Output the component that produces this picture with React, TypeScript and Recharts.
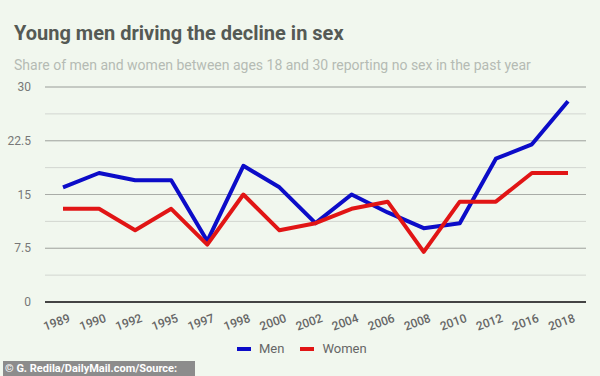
import { LineChart, Line, XAxis, YAxis, CartesianGrid, ReferenceLine } from 'recharts';

const years = ['1989', '1990', '1992', '1995', '1997', '1998', '2000', '2002', '2004', '2006', '2008', '2010', '2012', '2016', '2018'];
const menShare = [16, 18, 17, 17, 8.5, 19, 16, 11, 15, 12.5, 10.3, 11, 20, 22, 28];
const womenShare = [13, 13, 10, 13, 8, 15, 10, 11, 13, 14, 7, 14, 14, 18, 18];
const gridTicks = [0, 3.75, 7.5, 11.25, 15, 18.75, 22.5, 26.25, 30];
const labelTicks = [0, 7.5, 15, 22.5, 30];

const data = years.map((year, i) => ({ year, men: menShare[i], women: womenShare[i] }));

const FONT = 'Roboto, "Noto Sans", sans-serif';

const YTick = ({ x, y, payload }: any) => {
  if (!labelTicks.includes(payload.value)) return null;
  return (
    <text x={x - 6} y={y} dy={4} textAnchor="end" fontSize={12} fill="#777" fontFamily={FONT}>
      {payload.value}
    </text>
  );
};

const XTick = ({ x, y, payload }: any) => (
  <text
    x={x - 5}
    y={y + 16}
    textAnchor="middle"
    fontSize={12}
    fontWeight={500}
    fill="#666"
    fontFamily={FONT}
    transform={`rotate(-20, ${x - 5}, ${y + 16})`}
  >
    {payload.value}
  </text>
);

const App = () => {
  return (
    <div style={{ position: 'absolute', left: 0, top: 0, width: 600, height: 376, background: '#f1f7ee', fontFamily: FONT, overflow: 'hidden' }}>
      <div style={{ position: 'absolute', left: 14, top: 21, fontSize: 20, fontWeight: 700, color: '#555a55', whiteSpace: 'nowrap' }}>
        Young men driving the decline in sex
      </div>
      <div style={{ position: 'absolute', left: 14, top: 57, fontSize: 14, color: '#b5bbb4', whiteSpace: 'nowrap' }}>
        Share of men and women between ages 18 and 30 reporting no sex in the past year
      </div>
      <div style={{ position: 'absolute', left: 0, top: 0 }}>
        <LineChart width={600} height={376} data={data} margin={{ top: 87, right: 14, bottom: 0, left: 0 }}>
          <CartesianGrid vertical={false} stroke="#d2d6d0" strokeWidth={1} />
          {labelTicks.slice(1).map((v) => (
            <ReferenceLine key={v} y={v} stroke="#a9aca7" strokeWidth={1} />
          ))}
          <XAxis
            dataKey="year"
            height={74}
            padding={{ left: 18, right: 18 }}
            axisLine={{ stroke: '#444', strokeWidth: 2 }}
            tickLine={false}
            tick={<XTick />}
            interval={0}
          />
          <YAxis
            width={45}
            domain={[0, 30]}
            ticks={gridTicks}
            axisLine={false}
            tickLine={false}
            tick={<YTick />}
            interval={0}
          />
          <Line dataKey="men" stroke="#0c0cc8" strokeWidth={4} dot={false} isAnimationActive={false} strokeLinejoin="round" />
          <Line dataKey="women" stroke="#e11515" strokeWidth={4} dot={false} isAnimationActive={false} strokeLinejoin="round" />
        </LineChart>
      </div>
      <div style={{ position: 'absolute', left: 237, top: 341, display: 'flex', alignItems: 'center', fontSize: 13, color: '#666' }}>
        <span style={{ display: 'inline-block', width: 14, height: 4, background: '#0c0cc8', marginRight: 8 }} />
        <span>Men</span>
        <span style={{ display: 'inline-block', width: 14, height: 4, background: '#e11515', marginLeft: 16, marginRight: 8 }} />
        <span>Women</span>
      </div>
      <div style={{ position: 'absolute', left: 3, top: 361, width: 192, height: 15, background: '#8c8c8c', color: '#fff', fontSize: 11, fontWeight: 700, lineHeight: '15px', paddingLeft: 2, whiteSpace: 'nowrap', boxSizing: 'border-box' }}>
        © G. Redila/DailyMail.com/Source:
      </div>
    </div>
  );
};

export default App;
